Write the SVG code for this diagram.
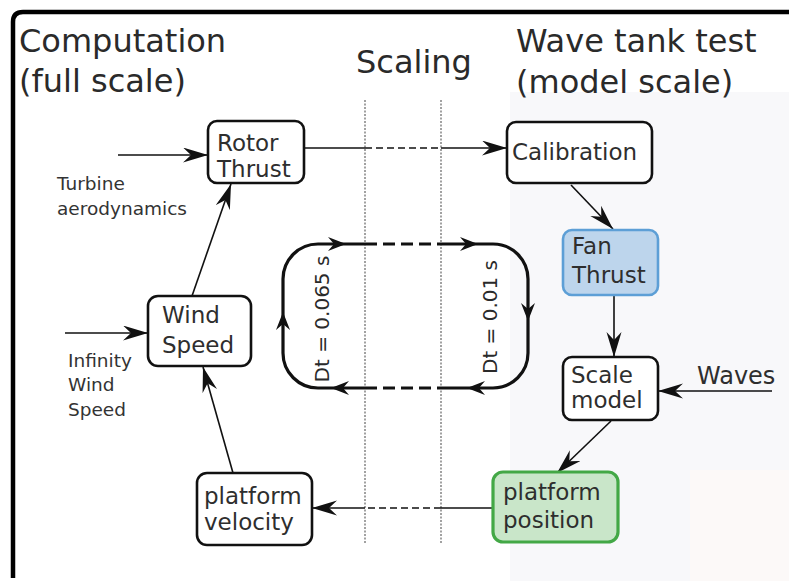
<svg xmlns="http://www.w3.org/2000/svg" width="789" height="581" viewBox="0 0 789 581">
<style>
.title{font-family:"DejaVu Sans","Liberation Sans",sans-serif;font-size:32px;fill:#2a2a2a}
.nt{font-family:"DejaVu Sans","Liberation Sans",sans-serif;font-size:23px;fill:#2e2e2e}
.lbl{font-family:"DejaVu Sans","Liberation Sans",sans-serif;font-size:18.5px;fill:#333}
.rot{font-family:"DejaVu Sans","Liberation Sans",sans-serif;font-size:20px;fill:#2a2a2a}
.box{fill:#fff;stroke:#111;stroke-width:2.6}
.ln{fill:none;stroke:#111;stroke-width:1.6}
.dash{stroke-dasharray:7 4}
.dot{fill:none;stroke:#8a8a8a;stroke-width:1.6;stroke-dasharray:2 1.5}
.loop{fill:none;stroke:#111;stroke-width:3.2}
</style>
<defs>
<marker id="arr" markerWidth="28" markerHeight="16" refX="25" refY="7.5" orient="auto" markerUnits="userSpaceOnUse">
<path d="M0,0 L25,7.5 L0,15 L8,7.5 z" fill="#111"/>
</marker>
<path id="ah" d="M0,0 L-18,-7 L-12,0 L-18,7 z" fill="#111"/>
</defs>
<rect x="0" y="0" width="789" height="581" fill="#fff"/>
<rect x="510" y="92" width="279" height="489" fill="#f8f8fa"/>
<rect x="690" y="470" width="99" height="111" fill="#fcf9f8"/>
<path d="M13,578 L13,22 Q13,12 23,12 L789,12" fill="none" stroke="#000" stroke-width="4.5"/>

<g id="titles">
<text class="title" x="19" y="52">Computation</text>
<text class="title" x="19" y="92">(full scale)</text>
<text class="title" x="356" y="73">Scaling</text>
<text class="title" x="516" y="52">Wave tank test</text>
<text class="title" x="516" y="93">(model scale)</text>
</g>

<g id="scaling-lines">
<line class="dot" x1="365" y1="100" x2="365" y2="543"/>
<line class="dot" x1="441" y1="100" x2="441" y2="543"/>
</g>

<g id="labels">
<text class="lbl" x="57" y="190">Turbine</text>
<text class="lbl" x="57" y="215">aerodynamics</text>
<text class="lbl" x="68" y="367">Infinity</text>
<text class="lbl" x="68" y="391">Wind</text>
<text class="lbl" x="68" y="416">Speed</text>
<text class="nt" x="697" y="384" style="font-size:24px">Waves</text>
</g>

<g id="connectors">
<line class="ln" x1="118" y1="155" x2="208" y2="155" marker-end="url(#arr)"/>
<line class="ln" x1="305" y1="148" x2="365" y2="148"/>
<line class="ln dash" x1="365" y1="148" x2="441" y2="148"/>
<line class="ln" x1="441" y1="148" x2="507" y2="148" marker-end="url(#arr)"/>
<line class="ln" x1="571" y1="185" x2="613" y2="229" marker-end="url(#arr)"/>
<line class="ln" x1="614" y1="296" x2="614" y2="357" marker-end="url(#arr)"/>
<line class="ln" x1="772" y1="391" x2="658" y2="391" marker-end="url(#arr)"/>
<line class="ln" x1="611" y1="421" x2="557" y2="473" marker-end="url(#arr)"/>
<line class="ln" x1="493" y1="508" x2="441" y2="508"/>
<line class="ln dash" x1="441" y1="508" x2="365" y2="508"/>
<line class="ln" x1="365" y1="508" x2="312" y2="508" marker-end="url(#arr)"/>
<line class="ln" x1="233" y1="473" x2="203" y2="367" marker-end="url(#arr)"/>
<line class="ln" x1="192" y1="296" x2="231" y2="184" marker-end="url(#arr)"/>
<line class="ln" x1="65" y1="333" x2="148" y2="333" marker-end="url(#arr)"/>
</g>

<g id="loop">
<path class="loop" d="M441,244 L493,244 A35,35 0 0 1 528,279 L528,353 A35,35 0 0 1 493,388 L441,388"/>
<path class="loop" d="M365,388 L318,388 A35,35 0 0 1 283,353 L283,279 A35,35 0 0 1 318,244 L365,244"/>
<line class="loop" x1="365" y1="244" x2="441" y2="244" stroke-dasharray="12 6"/>
<line class="loop" x1="365" y1="388" x2="441" y2="388" stroke-dasharray="12 6"/>
<use href="#ah" transform="translate(346,244)"/>
<use href="#ah" transform="translate(478,244)"/>
<use href="#ah" transform="translate(528,321) rotate(90)"/>
<use href="#ah" transform="translate(467,388) rotate(180)"/>
<use href="#ah" transform="translate(331,388) rotate(180)"/>
<use href="#ah" transform="translate(283,312) rotate(-90)"/>
<text class="rot" transform="translate(329,319) rotate(-90)" text-anchor="middle">Dt = 0.065 s</text>
<text class="rot" transform="translate(497,317) rotate(-90)" text-anchor="middle">Dt = 0.01 s</text>
</g>

<g id="rotor-thrust">
<rect class="box" x="208" y="121" width="96" height="62" rx="9"/>
<text class="nt" x="217" y="151">Rotor</text>
<text class="nt" x="217" y="177">Thrust</text>
</g>
<g id="calibration">
<rect class="box" x="507" y="122" width="145" height="61" rx="9"/>
<text class="nt" x="512" y="160">Calibration</text>
</g>
<g id="fan-thrust">
<rect x="563" y="230" width="95" height="65" rx="9" fill="#bdd5ec" stroke="#5d9fd6" stroke-width="2.6"/>
<text class="nt" x="572" y="254">Fan</text>
<text class="nt" x="572" y="283">Thrust</text>
</g>
<g id="scale-model">
<rect class="box" x="563" y="357" width="95" height="63" rx="9"/>
<text class="nt" x="571" y="383">Scale</text>
<text class="nt" x="571" y="408">model</text>
</g>
<g id="platform-position">
<rect x="493" y="472" width="125" height="70" rx="10" fill="#c9e6c9" stroke="#43a846" stroke-width="3.2"/>
<text class="nt" x="503" y="500">platform</text>
<text class="nt" x="503" y="528">position</text>
</g>
<g id="platform-velocity">
<rect class="box" x="197" y="473" width="115" height="72" rx="10"/>
<text class="nt" x="204" y="504">platform</text>
<text class="nt" x="204" y="530">velocity</text>
</g>
<g id="wind-speed">
<rect class="box" x="148" y="296" width="103" height="70" rx="10"/>
<text class="nt" x="162" y="323">Wind</text>
<text class="nt" x="162" y="353">Speed</text>
</g>
</svg>
